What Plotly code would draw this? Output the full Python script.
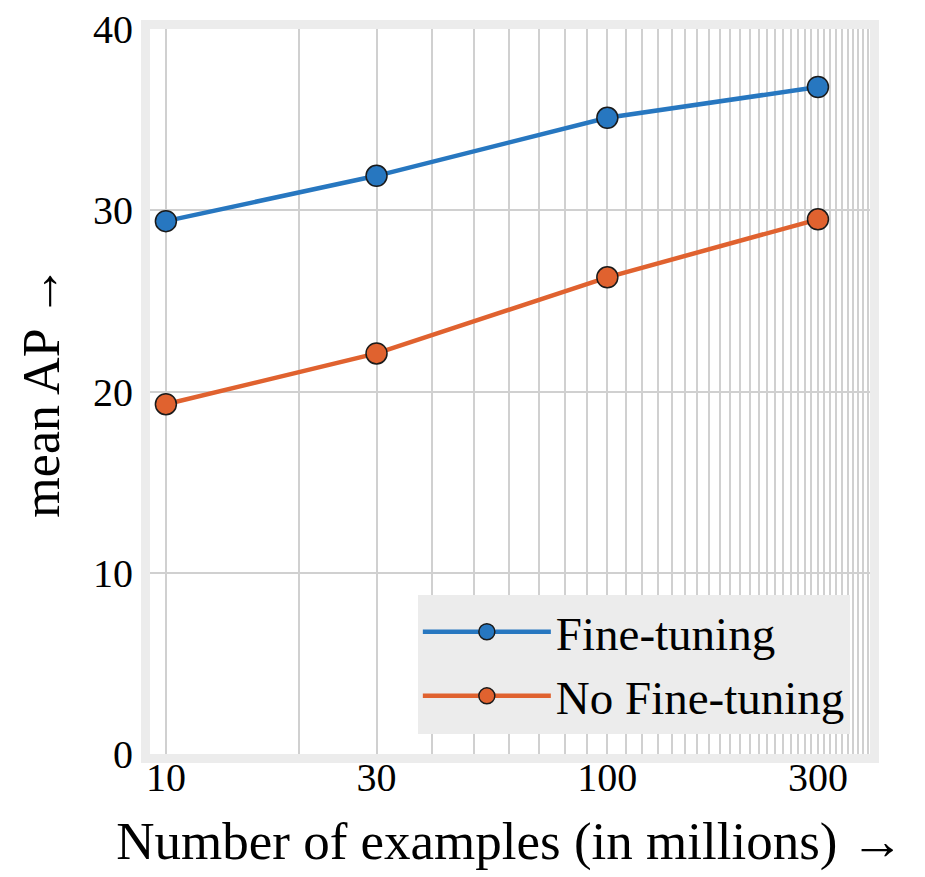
import plotly.graph_objects as go

examples = [10, 30, 100, 300]
fine_tuning = [29.4, 31.9, 35.1, 36.8]
no_fine_tuning = [19.3, 22.1, 26.3, 29.5]
x_tick_vals = [10, 30, 100, 300]
x_tick_text = ["10", "30", "100", "300"]
x_grid_vals = list(range(10, 400, 10))
y_tick_vals = [0, 10, 20, 30, 40]

BLUE = "#2777c0"
ORANGE = "#e0622f"
FONT = "Liberation Serif"

fig = go.Figure()
fig.add_trace(go.Scatter(
    x=examples, y=fine_tuning, name="Fine-tuning", mode="lines+markers",
    line=dict(color=BLUE, width=4.5),
    marker=dict(size=21, color=BLUE, line=dict(color="#1a1a1a", width=1.5)),
))
fig.add_trace(go.Scatter(
    x=examples, y=no_fine_tuning, name="No Fine-tuning", mode="lines+markers",
    line=dict(color=ORANGE, width=4.5),
    marker=dict(size=21, color=ORANGE, line=dict(color="#1a1a1a", width=1.5)),
))

fig.update_layout(
    width=917, height=869,
    margin=dict(l=142, r=55, t=21, b=123),
    paper_bgcolor="white", plot_bgcolor="white",
    font=dict(family=FONT, color="black", size=40),
    legend=dict(
        x=0.972, y=0.028, xanchor="right", yanchor="bottom",
        bgcolor="#ececec", borderwidth=0,
        font=dict(family=FONT, size=47),
        itemwidth=128,
    ),
)
fig.update_xaxes(
    type="log", range=[0.964, 2.595], automargin=False,
    tickmode="array", tickvals=x_tick_vals, ticktext=x_tick_text,
    showgrid=True, gridcolor="#d0d0d0", gridwidth=2,
    minor=dict(tickmode="array", tickvals=x_grid_vals, showgrid=True,
               gridcolor="#d0d0d0", gridwidth=2, ticks=""),
    ticks="", tickfont=dict(size=40), ticklabelstandoff=-20,
    ticklabeloverflow="allow",
    showline=True, mirror=True, linecolor="#ececec", linewidth=9,
    zeroline=False,
    title=dict(text="Number of examples (in millions) →", font=dict(size=53), standoff=26),
)
fig.update_yaxes(
    range=[0, 40], tickmode="array", tickvals=y_tick_vals, automargin=False,
    showgrid=True, gridcolor="#d0d0d0", gridwidth=2,
    ticks="", tickfont=dict(size=40), ticklabeloverflow="allow",
    showline=True, mirror=True, linecolor="#ececec", linewidth=9,
    zeroline=False,
    title=dict(text="mean AP →", font=dict(size=52), standoff=20),
)

fig.write_html("out.html")
